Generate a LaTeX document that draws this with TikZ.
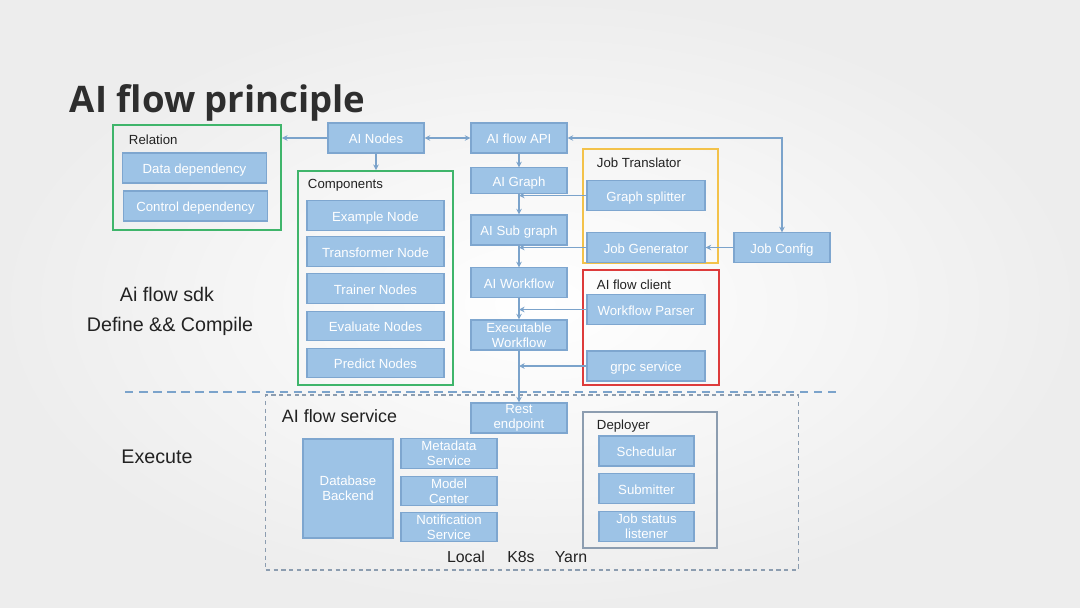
\documentclass[tikz,border=0pt]{standalone}
\usepackage{fontspec}
\setmainfont{Liberation Sans}
\newfontfamily\titlefont{Open Sans}
\usetikzlibrary{arrows.meta}
\definecolor{boxfill}{HTML}{9DC3E6}
\definecolor{boxline}{HTML}{7EA6CF}
\definecolor{flowline}{HTML}{7BA3CB}
\definecolor{grpgreen}{HTML}{3FB56B}
\definecolor{grpyellow}{HTML}{F3C24A}
\definecolor{grpred}{HTML}{DD3B3B}
\definecolor{grpgray}{HTML}{8C9DB0}
\definecolor{inktext}{HTML}{222222}
\begin{document}
\begin{tikzpicture}[x=0.025cm, y=-0.025cm,
    box/.style={draw=boxline, fill=boxfill, line width=0.8pt, text=white, align=center,
        minimum width=2.4cm, minimum height=0.75cm, inner sep=1pt,
        font=\fontsize{9.4}{10.6}\selectfont},
    sbox/.style={box, text height=0.85em, text depth=0.05em},
    group/.style={draw=#1, line width=1.3pt, minimum width=0.1cm},
    grouplabel/.style={anchor=west, text=inktext, font=\fontsize{9.4}{11}\selectfont},
    sidetext/.style={text=inktext, font=\fontsize{14}{16}\selectfont},
    flow/.style={draw=flowline, line width=0.8pt, -{Stealth[length=4pt, width=4pt]}},
    flowboth/.style={flow, {Stealth[length=4pt, width=4pt]}-{Stealth[length=4pt, width=4pt]}}]
    % background
    \shade[inner color=white, outer color=black!7] (0,0) rectangle (1080,607);
    \useasboundingbox (0,0) rectangle (1080,607);

    \node[anchor=base west, text=black!82, font=\titlefont\bfseries\fontsize{26}{30}\selectfont] at (65,112) (title) {AI flow principle};

    % sdk part: groups
    \node[group=grpgreen, minimum width=4.2cm, minimum height=2.625cm] at (197,177.5) (relation) {};
    \node[grouplabel] at (124,140) (relationlbl) {Relation};
    \node[sbox, minimum width=3.58cm] at (194.5,168) (datadep) {Data dependency};
    \node[sbox, minimum width=3.62cm] at (195.5,206) (ctrldep) {Control dependency};

    \node[group=grpgreen, minimum width=3.875cm, minimum height=5.35cm] at (375.5,278) (comp) {};
    \node[grouplabel] at (303,185) (complbl) {Components};
    \node[sbox, minimum width=3.425cm, minimum height=0.74cm] at (375.5,215.5) (example) {Example Node};
    \node[sbox, minimum width=3.425cm, minimum height=0.74cm] at (375.5,251.5) (transformer) {Transformer Node};
    \node[sbox, minimum width=3.425cm, minimum height=0.74cm] at (375.5,288.5) (trainer) {Trainer Nodes};
    \node[sbox, minimum width=3.425cm, minimum height=0.74cm] at (375.5,326) (evaluate) {Evaluate Nodes};
    \node[sbox, minimum width=3.425cm, minimum height=0.74cm] at (375.5,363) (predict) {Predict Nodes};

    \node[group=grpyellow, minimum width=3.375cm, minimum height=2.85cm] at (650.5,206) (translator) {};
    \node[grouplabel] at (592,163) (translatorlbl) {Job Translator};
    \node[sbox, minimum width=2.95cm, minimum height=0.73cm] at (646,195.5) (splitter) {Graph splitter};
    \node[sbox, minimum width=2.95cm, minimum height=0.73cm] at (646,247.5) (generator) {Job Generator};
    \node[sbox, minimum height=0.73cm] at (782,247.5) (config) {Job Config};

    \node[group=grpred, minimum width=3.4cm, minimum height=2.875cm] at (651,327.5) (client) {};
    \node[grouplabel] at (592,285) (clientlbl) {AI flow client};
    \node[sbox, minimum width=2.95cm, minimum height=0.73cm] at (646,309.5) (parser) {Workflow Parser};
    \node[sbox, minimum width=2.95cm, minimum height=0.75cm] at (646,366) (grpc) {grpc service};

    % main column
    \node[sbox] at (376,138) (ainodes) {AI Nodes};
    \node[sbox] at (519,138) (api) {AI flow API};
    \node[sbox, minimum height=0.63cm] at (519,180.5) (graph) {AI Graph};
    \node[sbox] at (519,230) (subgraph) {AI Sub graph};
    \node[sbox, minimum height=0.73cm] at (519,282.5) (workflow) {AI Workflow};
    \node[box] at (519,335) (exec) {Executable\\Workflow};

    \node[sidetext] at (167,294) (sdk) {Ai flow sdk};
    \node[sidetext] at (170,326) (define) {Define \&\& Compile};
    \node[sidetext] at (157,457) (execute) {Execute};

    % separator
    \coordinate (sepL) at (125,392);
    \coordinate (sepR) at (836,392);
    \draw[flowline, line width=1.6pt, dash pattern=on 6pt off 4pt] (sepL) -- (sepR);

    % service part
    \node[draw=grpgray, dashed, line width=0.8pt, dash pattern=on 3pt off 2.5pt, minimum width=13.3cm, minimum height=4.375cm] at (532,482.5) (service) {};
    \node[anchor=west, text=inktext, font=\fontsize{12.7}{14}\selectfont] at (277,416) (servicelbl) {AI flow service};
    \node[box] at (519,418) (rest) {Rest\\endpoint};
    \node[box, minimum width=2.25cm, minimum height=2.475cm] at (348,488.5) (database) {Database\\Backend};
    \node[box, minimum height=0.73cm] at (449,453.5) (metadata) {Metadata\\Service};
    \node[box, minimum height=0.73cm] at (449,491) (model) {Model\\Center};
    \node[box, minimum height=0.71cm] at (449,527) (notification) {Notification\\Service};

    \node[draw=grpgray, line width=1pt, minimum width=3.35cm, minimum height=3.4cm] at (650,480) (deployer) {};
    \node[grouplabel] at (592,426) (deployerlbl) {Deployer};
    \node[sbox, minimum width=2.375cm] at (646.5,451) (schedular) {Schedular};
    \node[sbox, minimum width=2.375cm, minimum height=0.73cm] at (646.5,488.5) (submitter) {Submitter};
    \node[box, minimum width=2.375cm, minimum height=0.73cm] at (646.5,526.5) (jobstatus) {Job status\\listener};

    \node[text=inktext, font=\fontsize{11.3}{13}\selectfont] at (466,557) (local) {Local};
    \node[text=inktext, font=\fontsize{11.3}{13}\selectfont] at (521,557) (k8s) {K8s};
    \node[text=inktext, font=\fontsize{11.3}{13}\selectfont] at (571,557) (yarn) {Yarn};

    % connectors
    \draw[flowboth] (api) -- (ainodes);
    \draw[flow] (ainodes) -- (ainodes -| relation.east);
    \draw[flow] (ainodes) -- (comp.north -| ainodes);
    \draw[flow] (api) -- (graph);
    \draw[flow] (graph) -- (subgraph);
    \draw[flow] (subgraph) -- (workflow);
    \draw[flow] (workflow) -- (exec);
    \draw[flow] (exec) -- (rest);
    \draw[flow] (splitter) -- (splitter -| graph);
    \draw[flow] (generator) -- (generator -| graph);
    \draw[flow] (parser) -- (parser -| graph);
    \draw[flow] (grpc) -- (grpc -| graph);
    \draw[flow] (config) -- (generator);
    \draw[flowboth] (api) -| (config);

\end{tikzpicture}
\end{document}
